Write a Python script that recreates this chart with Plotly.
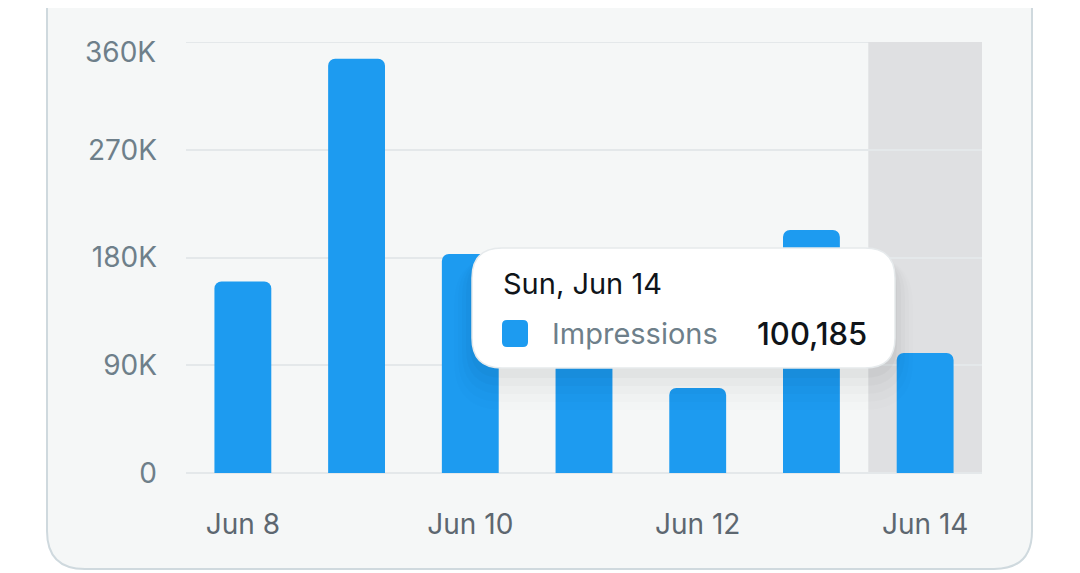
import plotly.graph_objects as go

# Data
days = ["Jun 8", "Jun 9", "Jun 10", "Jun 11", "Jun 12", "Jun 13", "Jun 14"]
impressions = [160000, 346000, 183000, 140000, 71000, 203000, 100185]
y_ticks = [0, 90000, 180000, 270000, 360000]
y_labels = ["0", "90K", "180K", "270K", "360K"]
x_ticks = ["Jun 8", "Jun 10", "Jun 12", "Jun 14"]
hover_day = "Sun, Jun 14"
hover_idx = 6
series_name = "Impressions"

# page body adds an 8px margin, so the figure is a bit smaller and shifted
OFF = 8
W, H = 1072, 565
ML, MR, MT, MB = 178, 98, 34, 100
PW, PH = W - ML - MR, H - MT - MB
BLUE = "#1d9bf0"
FONT = "Inter, Roboto, sans-serif"
TICK_GREY = "#6e7f8a"


def px(x):
    return (x - OFF - ML) / PW


def py(y):
    return (OFF + H - MB - y) / PH


def rrect(x0, y0, x1, y1, r):
    # rounded rectangle path in paper coords, from screen pixel coords
    rx, ry = r / PW, r / PH
    a, b, c, d = px(x0), py(y1), px(x1), py(y0)  # left, bottom, right, top
    return (f"M{a+rx},{b} L{c-rx},{b} Q{c},{b} {c},{b+ry} L{c},{d-ry} Q{c},{d} {c-rx},{d} "
            f"L{a+rx},{d} Q{a},{d} {a},{d-ry} L{a},{b+ry} Q{a},{b} {a+rx},{b} Z")


fig = go.Figure()
fig.add_trace(go.Bar(
    x=days, y=impressions, width=0.5, name=series_name,
    marker=dict(color=BLUE, cornerradius=7, line=dict(width=0)),
    hoverinfo="skip",
))

shapes = []
# card
shapes.append(dict(type="path", xref="paper", yref="paper", layer="below",
                   path=rrect(47, -60, 1032, 569, 38),
                   fillcolor="#f5f7f7", line=dict(color="#cfd9de", width=2)))
# hovered column highlight
shapes.append(dict(type="rect", xref="x", yref="y", layer="below",
                   x0=hover_idx - 0.5, x1=hover_idx + 0.5, y0=0, y1=y_ticks[-1],
                   fillcolor="#dfe0e2", line=dict(width=0)))
# top gridline
shapes.append(dict(type="line", xref="paper", yref="y", layer="below",
                   x0=0, x1=1, y0=y_ticks[-1], y1=y_ticks[-1],
                   line=dict(color="#e4e8ea", width=2)))
# tooltip shadow
for i, a in enumerate([0.025, 0.02, 0.016, 0.012, 0.008]):
    g = 2 + i * 4
    shapes.append(dict(type="path", xref="paper", yref="paper", layer="above",
                       path=rrect(472 - g, 248 + 8, 895 + g, 368 + 6 + 2 * g, 30 + g),
                       fillcolor=f"rgba(0,0,0,{a})", line=dict(width=0)))
# tooltip box
shapes.append(dict(type="path", xref="paper", yref="paper", layer="above",
                   path=rrect(472, 248, 895, 368, 30),
                   fillcolor="white", line=dict(color="#e6eaec", width=1.5)))
# legend swatch
shapes.append(dict(type="path", xref="paper", yref="paper", layer="above",
                   path=rrect(502, 320, 528, 347, 5),
                   fillcolor=BLUE, line=dict(width=0)))

annotations = [
    # top tick label sits a little below its gridline
    dict(text=y_labels[-1], x=0, y=y_ticks[-1], xref="paper", yref="y",
         xanchor="right", yanchor="middle", xshift=-28, yshift=-10, showarrow=False,
         font=dict(family=FONT, size=28, color=TICK_GREY)),
    dict(text=hover_day, x=px(501), y=py(283), xref="paper", yref="paper",
         xanchor="left", yanchor="middle", showarrow=False,
         font=dict(family=FONT, size=29, color="#0f1419")),
    dict(text=series_name, x=px(550), y=py(333), xref="paper", yref="paper",
         xanchor="left", yanchor="middle", showarrow=False,
         font=dict(family=FONT, size=29, color=TICK_GREY)),
    dict(text=f"{impressions[hover_idx]:,}", x=px(869), y=py(333), xref="paper", yref="paper",
         xanchor="right", yanchor="middle", showarrow=False,
         font=dict(family=FONT, size=31, color="#0f1419", weight=500)),
]

fig.update_layout(
    width=W, height=H,
    margin=dict(l=ML, r=MR, t=MT, b=MB, pad=0),
    paper_bgcolor="white", plot_bgcolor="rgba(0,0,0,0)",
    showlegend=False, hovermode=False, bargap=0.5,
    shapes=shapes, annotations=annotations,
    font=dict(family=FONT),
)
fig.update_xaxes(type="category", tickvals=x_ticks, ticktext=x_ticks,
                 range=[-0.5, len(days) - 0.5], showgrid=False, zeroline=False,
                 showline=False, ticks="", ticklabelstandoff=32,
                 tickfont=dict(family=FONT, size=28, color="#5d6770"))
fig.update_yaxes(range=[0, y_ticks[-1]], tickvals=y_ticks,
                 ticktext=y_labels[:-1] + [""],
                 showgrid=True, gridcolor="#e4e8ea", gridwidth=2,
                 zeroline=True, zerolinecolor="#e4e8ea", zerolinewidth=2,
                 showline=False, ticks="", ticklabelstandoff=28,
                 tickfont=dict(family=FONT, size=28, color=TICK_GREY))

fig.write_html("out.html")
